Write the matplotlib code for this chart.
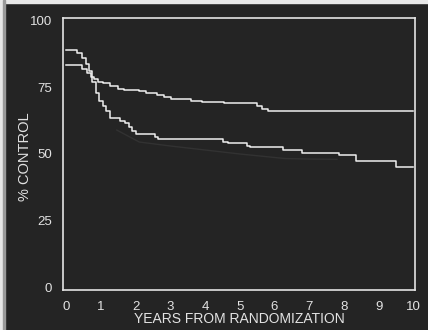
import numpy as np
import matplotlib.pyplot as plt
from matplotlib.patches import Rectangle

# step curves (years, % control)
upper_x = [0, 0.45, 0.6, 0.7, 0.8, 0.9, 1.05, 1.25, 1.5, 1.65, 2.1, 2.3, 2.6, 2.8,
           3.0, 3.6, 3.9, 4.55, 5.5, 5.65, 5.8, 10.0]
upper_y = [83.5, 82, 80.5, 79, 78, 77, 76.5, 75.5, 74.5, 74, 73.5, 73, 72, 71.5,
           70.5, 70, 69.5, 69, 68, 67, 66, 66]

lower_x = [0, 0.3, 0.45, 0.55, 0.65, 0.75, 0.85, 0.95, 1.05, 1.15, 1.25, 1.55, 1.7,
           1.8, 1.9, 2.0, 2.55, 2.65, 4.5, 4.65, 5.2, 5.3, 6.25, 6.8, 7.85, 8.35,
           9.5, 10.0]
lower_y = [89, 88, 86, 84, 81, 77, 73, 70, 68, 66, 63.5, 62.5, 61.5, 60, 58.5, 57.5,
           56.5, 55.5, 54.5, 54, 53, 52.5, 51.5, 50.5, 49.5, 47.5, 45, 45]

# faint trace visible under the lower curve
ghost_x = [1.45, 2.1, 3.0, 3.8, 5.0, 6.3, 7.0, 7.8]
ghost_y = [59, 54.5, 53, 51.8, 50, 48.3, 48.1, 48]

xticks = list(range(11))
yticks = [0, 25, 50, 75, 100]

bg = '#242424'
fg = '#e2e2e2'
plt.rcParams['font.family'] = ['Liberation Sans', 'DejaVu Sans']

fig = plt.figure(figsize=(4.28, 3.30), dpi=100, facecolor=bg)
ax = fig.add_axes([63/428, 1 - 290/330, (415 - 63)/428, (290 - 18)/330])
ax.set_facecolor(bg)

ax.plot(ghost_x, ghost_y, color='#323232', lw=1.0)
ax.plot(upper_x, upper_y, drawstyle='steps-post', color='#efefef', lw=1.1)
ax.plot(lower_x, lower_y, drawstyle='steps-post', color='#efefef', lw=1.1)

ax.set_xlim(-0.1, 10.05)
ax.set_ylim(-1.1, 101.1)
ax.set_xticks(xticks)
ax.set_yticks(yticks)
ax.tick_params(length=0, colors=fg, labelsize=9.5)
ax.tick_params(axis='x', pad=8)
ax.tick_params(axis='y', pad=8)
for s in ax.spines.values():
    s.set_color('#e4e4e4')
    s.set_linewidth(1.2)

ax.set_xlabel('YEARS FROM RANDOMIZATION', color=fg, fontsize=10, labelpad=-1)
ax.set_ylabel('% CONTROL', color=fg, fontsize=10.5)
ax.yaxis.set_label_coords(-0.088, 0.49)

# photo border strips
fig.patches.append(Rectangle((0, 1 - 3/330), 1, 3/330, transform=fig.transFigure,
                             color='#e8e8e8', zorder=0))
fig.patches.append(Rectangle((0, 0), 2/428, 1, transform=fig.transFigure,
                             color='#e8e8e8', zorder=0))
fig.patches.append(Rectangle((3/428, 0), 1.5/428, 1, transform=fig.transFigure,
                             color='#9a9a9a', zorder=0))

fig.savefig('out.png', dpi=100, facecolor=bg)
